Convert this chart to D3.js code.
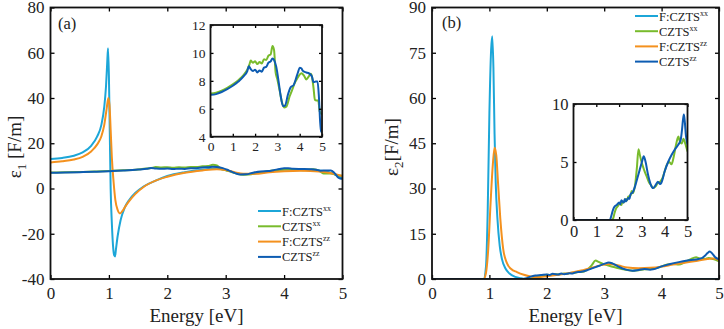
<!DOCTYPE html>
<html>
<head>
<meta charset="utf-8">
<script src="https://cdn.jsdelivr.net/npm/d3@7"></script>
<style>
  body { margin: 0; background: #fff; }
  svg { display: block; }
  svg text { font-family: 'Liberation Serif', Times, 'Times New Roman', serif; }
</style>
</head>
<body>
<svg id="chart" width="724" height="329"></svg>
<script>
// ---- data ----
const xTicks = [0, 1, 2, 3, 4, 5];
const eps1Ticks = [-40, -20, 0, 20, 40, 60, 80];
const eps1InsetTicks = [4, 6, 8, 10, 12];
const eps2Ticks = [0, 15, 30, 45, 60, 75, 90];
const eps2InsetTicks = [0, 5, 10];
const seriesNames = ['F:CZTS', 'CZTS', 'F:CZTS', 'CZTS'];
const seriesSups = ['xx', 'xx', 'zz', 'zz'];

// eps1, F:CZTS xx
const e1FxxE = [0, 0.2, 0.4, 0.55, 0.7, 0.8, 0.87, 0.92, 0.95, 0.97, 0.985, 1.0, 1.015, 1.03, 1.05, 1.07, 1.09, 1.105, 1.12, 1.15, 1.2, 1.27, 1.35, 1.45, 1.6, 1.8, 2.0, 2.3, 2.6, 2.85, 3.0, 3.15, 3.3, 3.5, 3.75, 4.0, 4.2, 4.5, 4.75, 4.88, 5.0];
const e1FxxV = [13, 13.5, 14.5, 16, 19, 23, 28, 36, 45, 55, 62, 50, 25, 0, -15, -25, -29.5, -30, -27, -21, -14, -8.5, -5, -2, 1, 3.5, 5.5, 7.2, 8.3, 8.8, 8.2, 7, 6.3, 6.6, 7.5, 8.3, 8.4, 8.1, 7.3, 6, 4.5];
// eps1, CZTS xx
const e1CxxE = [0, 0.25, 0.5, 0.75, 1.0, 1.25, 1.5, 1.65, 1.75, 1.8, 1.9, 2.0, 2.1, 2.2, 2.3, 2.4, 2.5, 2.6, 2.7, 2.78, 2.85, 2.92, 3.0, 3.1, 3.2, 3.3, 3.4, 3.55, 3.65, 3.78, 3.9, 4.0, 4.08, 4.2, 4.3, 4.4, 4.5, 4.55, 4.62, 4.68, 4.75, 4.83, 4.9, 5.0];
const e1CxxV = [7.1, 7.15, 7.3, 7.5, 7.75, 8.05, 8.45, 8.8, 9.2, 9.45, 9.3, 9.4, 9.2, 9.35, 9.25, 9.55, 9.5, 9.8, 9.9, 10.5, 10.2, 8.6, 8.1, 7.3, 6.5, 6.1, 6.15, 6.9, 7.3, 7.85, 8.2, 8.45, 8.55, 8.35, 8.1, 8.3, 8.5, 8.3, 7.5, 6.65, 6.6, 6.6, 5.8, 5.6];
// eps1, F:CZTS zz
const e1FzzE = [0, 0.2, 0.4, 0.55, 0.7, 0.8, 0.87, 0.92, 0.96, 0.99, 1.01, 1.03, 1.05, 1.08, 1.11, 1.15, 1.19, 1.23, 1.28, 1.35, 1.45, 1.6, 1.8, 2.0, 2.3, 2.6, 2.85, 3.0, 3.15, 3.3, 3.5, 3.75, 4.0, 4.3, 4.6, 4.85, 5.0];
const e1FzzV = [11.5, 12, 12.8, 14, 16.5, 19.5, 23, 28, 35, 40, 37, 26, 14, 3, -5, -9.5, -11, -10, -8, -5.5, -2.5, 0.8, 3.5, 5.2, 7, 8, 8.5, 8.2, 7.2, 6.5, 6.5, 7.2, 7.6, 7.8, 7.5, 6.5, 5.5];
// eps1, CZTS zz
const e1CzzE = [0, 0.25, 0.5, 0.75, 1.0, 1.25, 1.5, 1.65, 1.72, 1.8, 1.9, 2.0, 2.1, 2.2, 2.3, 2.4, 2.5, 2.6, 2.7, 2.78, 2.85, 2.95, 3.05, 3.15, 3.25, 3.35, 3.47, 3.6, 3.73, 3.82, 3.92, 4.0, 4.07, 4.15, 4.3, 4.45, 4.55, 4.62, 4.72, 4.8, 4.86, 4.92, 4.96, 5.0];
const e1CzzV = [7.0, 7.05, 7.2, 7.4, 7.65, 7.95, 8.35, 8.7, 9.05, 8.85, 8.7, 8.8, 8.6, 8.75, 8.65, 8.95, 9.0, 9.3, 9.4, 9.6, 9.5, 9.0, 8.0, 6.9, 6.2, 6.25, 7.0, 7.55, 7.7, 8.1, 8.6, 8.94, 8.9, 8.7, 8.6, 8.5, 8.3, 7.9, 7.95, 7.95, 6.9, 5.0, 4.4, 4.3];

// eps2, F:CZTS xx
const e2FxxE = [0, 0.9, 0.94, 0.97, 1.0, 1.03, 1.05, 1.07, 1.09, 1.11, 1.14, 1.18, 1.22, 1.28, 1.35, 1.45, 1.55, 1.65, 1.8, 5.0];
const e2FxxV = [0, 0, 4, 22, 55, 76, 80.5, 70, 48, 32, 20, 11, 6.5, 3.5, 1.8, 0.7, 0.25, 0.05, 0, 0];
// eps2, CZTS xx
const e2CxxE = [0, 1.7, 1.75, 1.8, 1.87, 1.95, 2.0, 2.1, 2.15, 2.2, 2.3, 2.35, 2.4, 2.5, 2.55, 2.6, 2.7, 2.78, 2.85, 2.9, 2.97, 3.1, 3.2, 3.3, 3.4, 3.5, 3.6, 3.7, 3.8, 3.9, 4.0, 4.1, 4.2, 4.3, 4.4, 4.5, 4.6, 4.66, 4.75, 4.82, 4.9, 5.0];
const e2CxxV = [0, 0, 0.2, 0.6, 1.0, 1.2, 1.4, 1.3, 1.6, 1.5, 1.8, 1.7, 2.0, 2.1, 2.5, 2.3, 3.0, 4.5, 6.1, 5.7, 5.1, 4.3, 3.8, 3.3, 3.0, 2.75, 2.9, 3.2, 3.3, 3.6, 4.2, 4.8, 5.0, 4.8, 5.5, 6.5, 7.2, 6.8, 6.6, 7.0, 6.6, 5.9];
// eps2, F:CZTS zz
const e2FzzE = [0, 0.9, 0.94, 0.98, 1.02, 1.06, 1.09, 1.12, 1.15, 1.19, 1.24, 1.3, 1.38, 1.48, 1.6, 1.72, 1.85, 2.0, 2.2, 2.4, 2.6, 2.8, 2.95, 3.1, 3.25, 3.4, 3.6, 3.8, 4.0, 4.2, 4.4, 4.6, 4.8, 4.9, 5.0];
const e2FzzV = [0, 0, 2, 10, 25, 38, 43.5, 41, 32, 20, 10, 5.5, 3.3, 2.3, 1.4, 0.8, 0.6, 0.9, 1.4, 2.0, 2.8, 3.8, 4.6, 5.0, 4.5, 3.8, 3.6, 3.7, 4.1, 4.8, 5.4, 6.0, 6.6, 6.8, 6.3];
// eps2, CZTS zz
const e2CzzE = [0, 1.6, 1.65, 1.72, 1.8, 1.9, 2.0, 2.05, 2.1, 2.2, 2.25, 2.3, 2.4, 2.45, 2.5, 2.6, 2.7, 2.8, 2.9, 3.0, 3.08, 3.15, 3.27, 3.38, 3.49, 3.6, 3.7, 3.8, 3.85, 4.0, 4.15, 4.3, 4.45, 4.6, 4.7, 4.76, 4.8, 4.84, 4.88, 4.93, 5.0];
const e2CzzV = [0, 0, 0.3, 0.8, 1.15, 1.3, 1.5, 1.35, 1.7, 1.5, 1.8, 1.6, 1.9, 1.8, 2.2, 2.4, 2.9, 3.6, 4.3, 5.0, 5.5, 5.1, 3.9, 3.1, 2.75, 3.0, 3.3, 3.1, 3.2, 4.2, 5.0, 5.6, 6.1, 6.5, 6.9, 7.8, 8.6, 9.1, 8.5, 7.3, 6.5];

const colors = ['#1ca6d8', '#78bb2c', '#f4911e', '#0d5cb2'];
const serif = "'Liberation Serif', Times, 'Times New Roman', serif";

const svg = d3.select('#chart').attr('font-family', serif);
svg.append('rect').attr('width', 724).attr('height', 329).attr('fill', '#fff');

let clipCount = 0;

function drawPanel(o) {
  const x = d3.scaleLinear().domain([0, 5]).range([o.l, o.r]);
  const y = d3.scaleLinear().domain(o.yDomain).range([o.b, o.t]);
  const g = svg.append('g');

  g.append('rect')
    .attr('x', o.l).attr('y', o.t)
    .attr('width', o.r - o.l).attr('height', o.b - o.t)
    .attr('fill', '#fff');

  const clipId = 'clip' + (clipCount++);
  g.append('clipPath').attr('id', clipId)
    .append('rect')
    .attr('x', o.l).attr('y', o.t)
    .attr('width', o.r - o.l).attr('height', o.b - o.t);

  const line = d3.line()
    .curve(d3.curveMonotoneX)
    .x(d => x(d[0]))
    .y(d => y(d[1]));

  const lines = g.append('g').attr('clip-path', 'url(#' + clipId + ')');
  o.series.forEach(s => {
    lines.append('path')
      .datum(d3.zip(s.e, s.v))
      .attr('fill', 'none')
      .attr('stroke', s.color)
      .attr('stroke-width', 2)
      .attr('stroke-linejoin', 'round')
      .attr('d', line);
  });

  const tk = o.tick;
  const fmt = d => String(d);

  const bottom = g.append('g')
    .attr('transform', 'translate(0,' + o.b + ')')
    .call(d3.axisBottom(x).tickValues(xTicks).tickSize(-tk).tickSizeOuter(0).tickPadding(o.xPad).tickFormat(fmt));
  const left = g.append('g')
    .attr('transform', 'translate(' + o.l + ',0)')
    .call(d3.axisLeft(y).tickValues(o.yTicks).tickSize(-tk).tickSizeOuter(0).tickPadding(o.yPad).tickFormat(fmt));
  g.append('g')
    .attr('transform', 'translate(0,' + o.t + ')')
    .call(d3.axisTop(x).tickValues(xTicks).tickSize(-tk).tickSizeOuter(0).tickFormat(''));
  g.append('g')
    .attr('transform', 'translate(' + o.r + ',0)')
    .call(d3.axisRight(y).tickValues(o.yTicks).tickSize(-tk).tickSizeOuter(0).tickFormat(''));

  g.selectAll('.domain').remove();
  g.selectAll('.tick line').attr('stroke', '#000').attr('stroke-width', 1.3);
  [bottom, left].forEach(a => {
    a.attr('font-family', serif).attr('font-size', o.font);
    a.selectAll('text').attr('fill', '#222');
  });

  g.append('rect')
    .attr('x', o.l).attr('y', o.t)
    .attr('width', o.r - o.l).attr('height', o.b - o.t)
    .attr('fill', 'none')
    .attr('stroke', '#111')
    .attr('stroke-width', 1.8);

  return g;
}

function legend(x0, y0, step) {
  const lg = svg.append('g');
  colors.forEach((c, i) => {
    const yy = y0 + i * step;
    lg.append('line')
      .attr('x1', x0).attr('x2', x0 + 23)
      .attr('y1', yy).attr('y2', yy)
      .attr('stroke', c).attr('stroke-width', 2);
    const t = lg.append('text')
      .attr('x', x0 + 24).attr('y', yy + 4.5)
      .attr('font-size', 12.5).attr('fill', '#222');
    t.append('tspan').text(seriesNames[i]);
    t.append('tspan').attr('dy', -5).attr('font-size', 8).text(seriesSups[i]);
  });
}

function axisTitles(cx, yLabelX, sub, sep) {
  svg.append('text')
    .attr('x', cx).attr('y', 322)
    .attr('text-anchor', 'middle')
    .attr('font-size', 19).attr('fill', '#222')
    .text('Energy [eV]');
  const t = svg.append('text')
    .attr('transform', 'translate(' + yLabelX + ',147) rotate(-90)')
    .attr('text-anchor', 'middle')
    .attr('font-size', 19).attr('fill', '#222');
  t.append('tspan').text('\u03b5');
  t.append('tspan').attr('dy', 5).attr('font-size', 13).text(sub);
  t.append('tspan').attr('dy', -5).text(sep + '[F/m]');
}

// ---- (a) eps1 ----
drawPanel({
  l: 50.5, r: 342.5, t: 7.5, b: 279,
  yDomain: [-40, 80], yTicks: eps1Ticks,
  tick: 4, xPad: 8, yPad: 6, font: 17,
  series: [
    { e: e1FxxE, v: e1FxxV, color: colors[0] },
    { e: e1CxxE, v: e1CxxV, color: colors[1] },
    { e: e1FzzE, v: e1FzzV, color: colors[2] },
    { e: e1CzzE, v: e1CzzV, color: colors[3] }
  ]
});
drawPanel({
  l: 210.5, r: 322, t: 25, b: 136.7,
  yDomain: [4, 12], yTicks: eps1InsetTicks,
  tick: 3, xPad: 5, yPad: 5, font: 13.5,
  series: [
    { e: e1CxxE, v: e1CxxV, color: colors[1] },
    { e: e1CzzE, v: e1CzzV, color: colors[3] }
  ]
});
svg.append('text').attr('x', 58).attr('y', 29).attr('font-size', 16.5).attr('fill', '#222').text('(a)');
legend(258, 211, 15.3);
axisTitles(196.5, 21, '1', ' ');

// ---- (b) eps2 ----
drawPanel({
  l: 432, r: 719, t: 7.5, b: 279,
  yDomain: [0, 90], yTicks: eps2Ticks,
  tick: 4, xPad: 8, yPad: 6, font: 17,
  series: [
    { e: e2FxxE, v: e2FxxV, color: colors[0] },
    { e: e2CxxE, v: e2CxxV, color: colors[1] },
    { e: e2FzzE, v: e2FzzV, color: colors[2] },
    { e: e2CzzE, v: e2CzzV, color: colors[3] }
  ]
});
drawPanel({
  l: 573.5, r: 687.5, t: 104, b: 220,
  yDomain: [0, 10], yTicks: eps2InsetTicks,
  tick: 3, xPad: 5, yPad: 5, font: 16.5,
  series: [
    { e: e2CxxE, v: e2CxxV, color: colors[1] },
    { e: e2CzzE, v: e2CzzV, color: colors[3] }
  ]
});
svg.append('text').attr('x', 442).attr('y', 28).attr('font-size', 16.5).attr('fill', '#222').text('(b)');
legend(635, 16, 15.2);
axisTitles(575.5, 398, '2', '');
</script>
</body>
</html>
